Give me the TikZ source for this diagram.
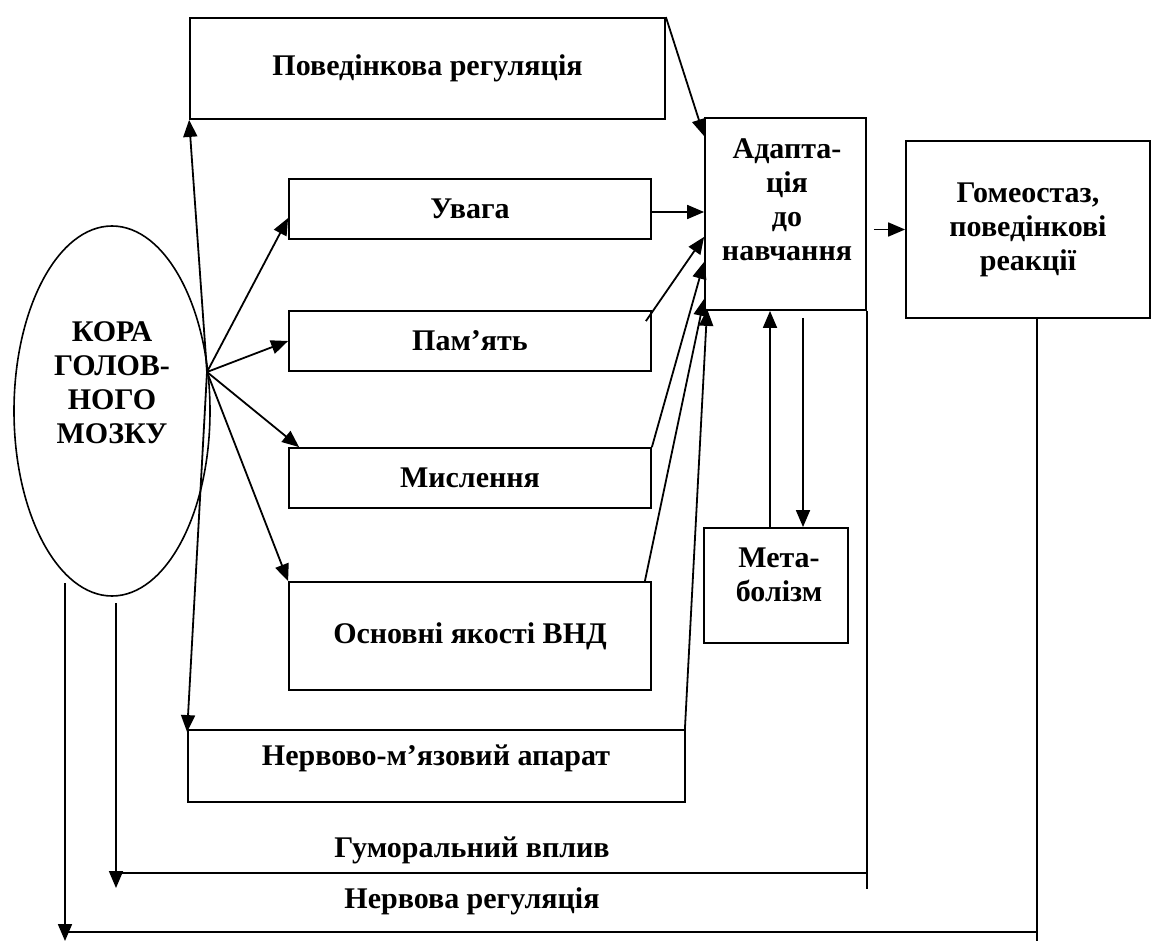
\documentclass[tikz,border=0pt]{standalone}
\usepackage{fontspec}
\setmainfont{Liberation Serif}
\usetikzlibrary{arrows.meta,shapes.geometric,calc}
\begin{document}
\begin{tikzpicture}[x=1pt,y=-1pt,
  box/.style={draw,line width=1.8pt,rectangle,inner sep=0pt,font=\bfseries\fontsize{30}{34}\selectfont,align=center},
  lbl/.style={font=\bfseries\fontsize{30}{34}\selectfont,align=center,inner sep=0pt},
  conn/.style={line width=1.8pt},
  arr/.style={line width=1.8pt,-{Triangle[length=17pt,width=14pt]}},
]
\useasboundingbox (0,0) rectangle (1151,941);

% boxes
\node[box,minimum width=475pt,minimum height=101pt] (beh) at (427.5,68.5) {Поведінкова регуляція};
\node[box,minimum width=362pt,minimum height=60pt] (att) at (470,209) {Увага};
\node[box,minimum width=362pt,minimum height=60pt] (mem) at (470,341) {Пам’ять};
\node[box,minimum width=362pt,minimum height=60pt] (thi) at (470,478) {Мислення};
\node[box,minimum width=362pt,minimum height=108pt] (vnd) at (470,636) {Основні якості ВНД};
\node[box,minimum width=497pt,minimum height=72pt] (nma) at (436.5,766) {};
\node[lbl] (nmalbl) at (436,758) {Нервово-м’язовий апарат};
\node[box,minimum width=161pt,minimum height=192pt] (ada) at (785.5,214) {};
\node[lbl] (adalbl) at (787,200) {Адапта-\\ція\\до\\навчання};
\node[box,minimum width=244pt,minimum height=177pt] (hom) at (1028,229.5) {Гомеостаз,\\поведінкові\\реакції};
\node[box,minimum width=144pt,minimum height=115pt] (met) at (776,585.5) {};
\node[lbl] (metlbl) at (779,575) {Мета-\\болізм};
\node[draw,ellipse,line width=1.6pt,minimum width=196pt,minimum height=370pt,inner sep=0pt] (cortex) at (112,411) {};
\node[lbl] (cortexlbl) at (112,383) {КОРА\\ГОЛОВ-\\НОГО\\МОЗКУ};

% fan from the cortex
\coordinate (hub) at (207,372);
\draw[arr] (hub) -- (beh.south west);
\draw[arr] (hub) -- ([yshift=-9pt]att.west);
\draw[arr] (hub) -- (mem.west);
\draw[arr] (hub) -- ([xshift=11pt]thi.north west);
\draw[arr] (hub) -- (vnd.north west);
\draw[arr] (hub) -- ([yshift=-3pt]nma.north west);

% into adaptation
\draw[arr] (beh.north east) -- ([yshift=-19pt]ada.north west);
\draw[arr] ([yshift=-3pt]att.east) -- ([yshift=-3pt]att.east -| ada.west);
\draw[arr] ([xshift=-6pt,yshift=-11pt]mem.north east) -- ([yshift=74pt]ada.south west);
\draw[arr] (thi.north east) -- ([yshift=49pt]ada.south west);
\draw[arr] ([xshift=-7pt]vnd.north east) -- ([yshift=12pt]ada.south west);
\draw[arr] ([xshift=-1pt]nma.north east) -- ([xshift=3pt,yshift=2pt]ada.south west);
\draw[arr] ([xshift=7pt]ada.east |- hom.west) -- (hom.west);

% metabolism
\draw[arr] ([xshift=-6pt]met.north) -- ([xshift=-6pt]met.north |- ada.south);
\draw[arr] ([xshift=27pt,yshift=-7pt]met.north |- ada.south) -- ([xshift=27pt]met.north);

% humoral feedback
\coordinate (hy) at (0,873);
\coordinate (hstart) at (116,603);
\coordinate (hend) at (116,888);
\coordinate (adadown) at ([yshift=-578pt]ada.south east);
\draw[conn] (ada.south east) -- (adadown);
\draw[conn] (hstart |- hy) -- (ada.south east |- hy);
\draw[arr] (hstart) -- (hend);
\node[lbl] (humlbl) at (472,850) {Гуморальний вплив};

% nervous feedback
\coordinate (ny) at (0,932);
\coordinate (nstart) at (65,583);
\coordinate (nend) at (65,941);
\coordinate (homdown) at ([xshift=9pt]hom.south |- nend);
\draw[conn] ([xshift=9pt]hom.south) -- (homdown);
\draw[conn] (nstart |- ny) -- (homdown |- ny);
\draw[arr] (nstart) -- (nend);
\node[lbl] (nrvlbl) at (472,901) {Нервова регуляція};
\end{tikzpicture}
\end{document}
